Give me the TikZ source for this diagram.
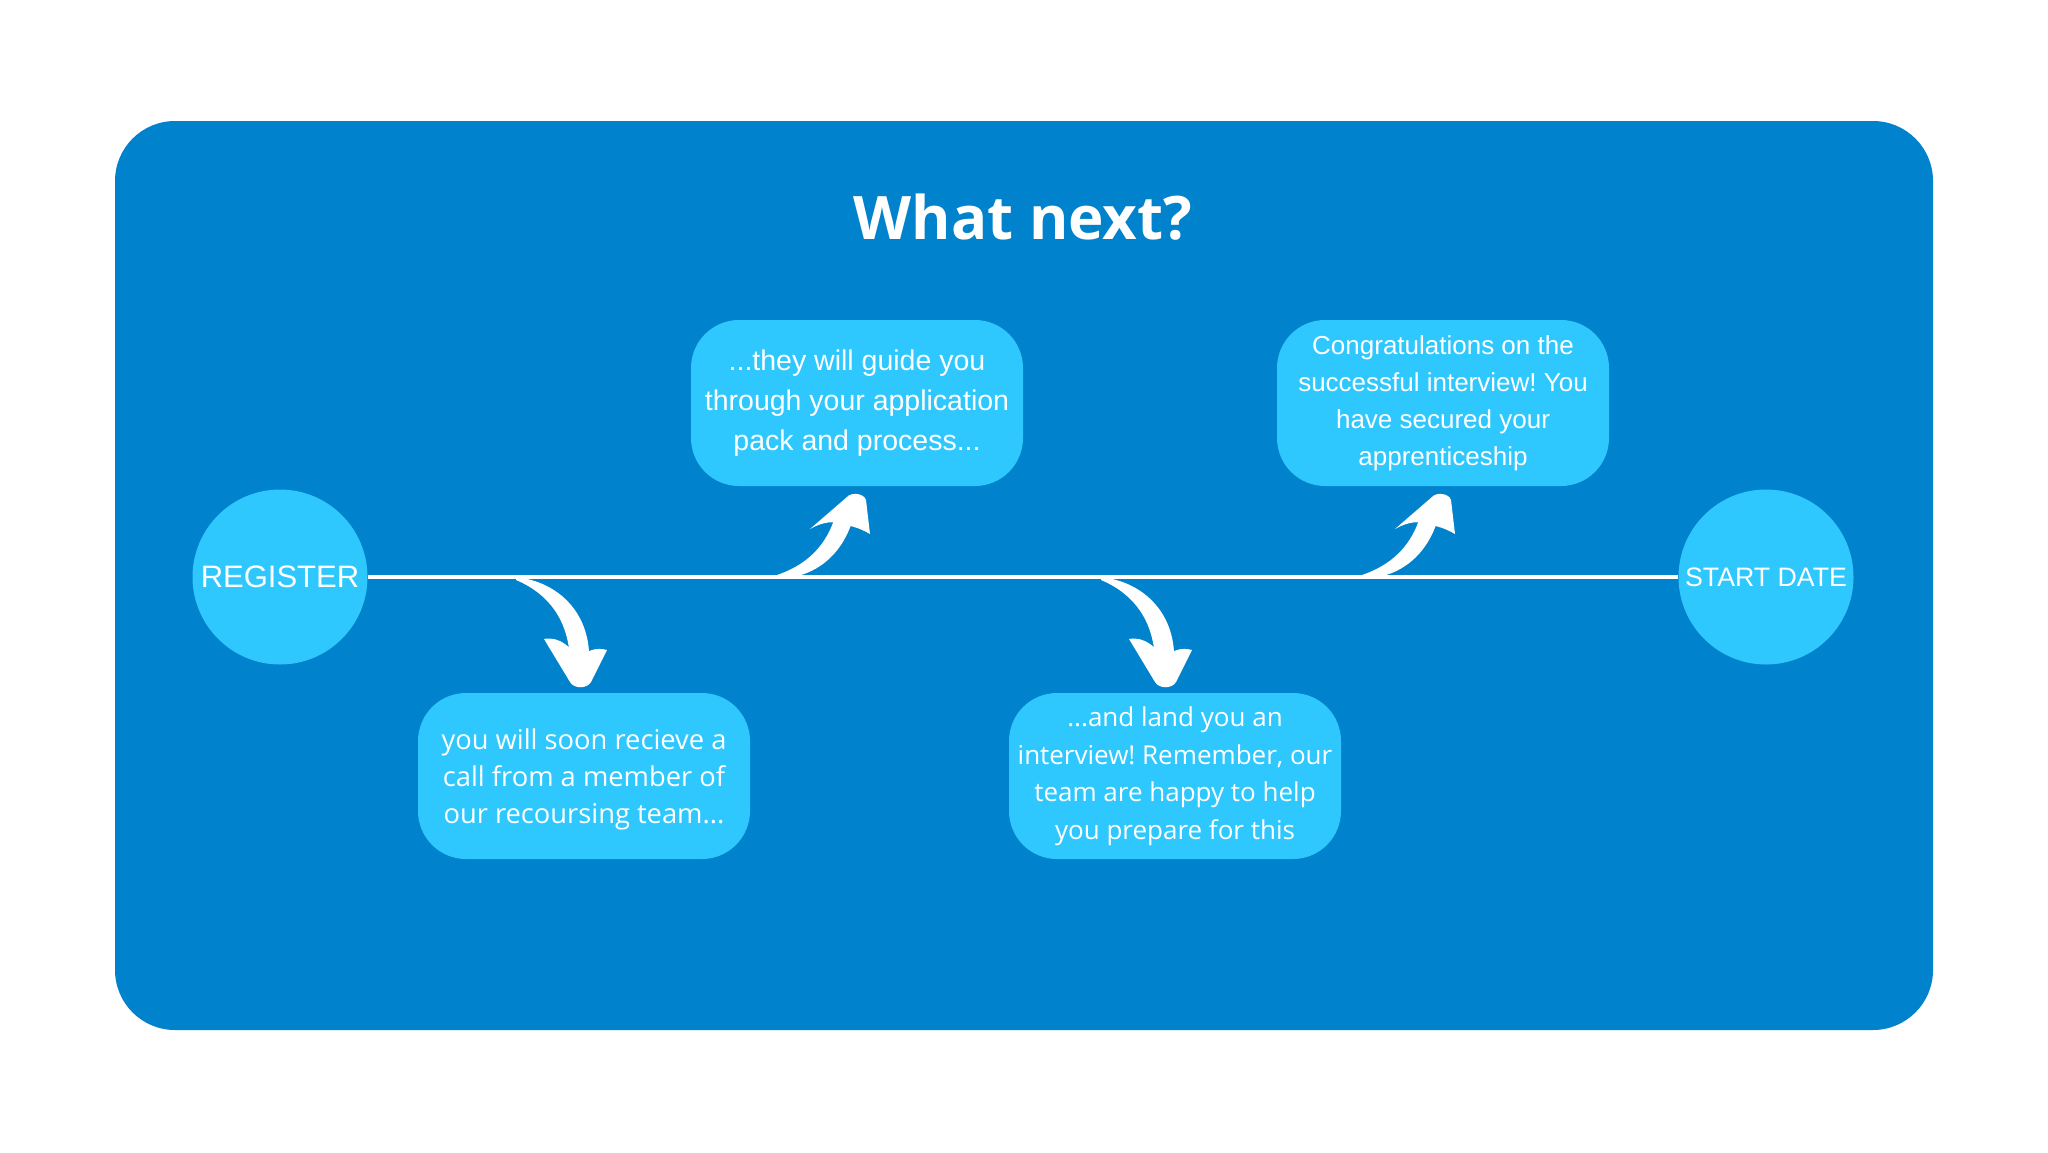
\documentclass[tikz,border=0pt]{standalone}
\usepackage{fontspec}
\setmainfont{Liberation Sans}
\newfontfamily\opensans{Open Sans}
\definecolor{bgblue}{RGB}{0,131,204}
\definecolor{lightblue}{RGB}{46,200,255}
\frenchspacing
\begin{document}
\begin{tikzpicture}[x=1pt,y=-1pt,
  bubble/.style={fill=lightblue, rounded corners=48pt, minimum width=332pt, minimum height=166pt, text=white, align=center, inner sep=0pt},
  roundnode/.style={circle, fill=lightblue, minimum size=175pt, inner sep=0pt, text=white},
  timeline/.style={white, line width=4pt},
  swoosh/.style={fill=white}]
\useasboundingbox[fill=white] (0,0) rectangle (2048,1152);
\fill[bgblue, rounded corners=60pt] (115,121) rectangle (1933,1030);
\node[text=white, font=\opensans\bfseries\fontsize{60}{70}\selectfont] (title) at (1023,217) {What next?};

\node[roundnode, font=\fontsize{31}{36}\selectfont] (reg) at (280,577) {REGISTER};
\node[roundnode, font=\fontsize{26.7}{32}\selectfont] (start) at (1766,577) {START DATE};
\draw[timeline] (reg) -- (start);

\node[bubble, font=\opensans\fontsize{27.3}{37}\selectfont] (b1) at (584,776) {\raisebox{-9.5pt}[0pt][0pt]{\parbox{330pt}{\centering you will soon recieve a\\call from a member of\\our recoursing team...}}};
\node[bubble, font=\fontsize{28.5}{40}\selectfont] (b2) at (857,403) {...they will guide you\\through your application\\pack and process...};
\node[bubble, font=\fontsize{26}{37}\selectfont] (b3) at (1443,403) {Congratulations on the\\successful interview! You\\have secured your\\apprenticeship};
\node[bubble, font=\opensans\fontsize{26}{37.5}\selectfont] (b4) at (1175,776) {...and land you an\\interview! Remember, our\\team are happy to help\\you prepare for this};

% down arrows
\foreach \dx in {0,585}{
\begin{scope}[xshift=\dx]
\fill[swoosh] (516,577) .. controls (560,582) and (592,615) .. (589,664)
  -- (570,664) .. controls (570,625) and (552,595) .. (516,580) -- cycle;
\fill[swoosh] (544,639) .. controls (560,636) and (572,648) .. (579,660)
  .. controls (586,650) and (596,647) .. (607,650) -- (591,682)
  .. controls (587,689) and (574,689) .. (570,682) -- cycle;
\end{scope}
}
% up arrows
\foreach \dx in {0,585}{
\begin{scope}[xshift=\dx]
\fill[swoosh] (762,576) .. controls (800,585) and (838,565) .. (852,522)
  -- (834,520) .. controls (822,555) and (795,572) .. (762,579) -- cycle;
\fill[swoosh] (810,529) .. controls (822,522) and (835,520) .. (843,525)
  .. controls (848,525) and (858,527) .. (870,534) -- (866,500)
  .. controls (864,493) and (851,492) .. (847,497) -- cycle;
\end{scope}
}
\end{tikzpicture}
\end{document}
